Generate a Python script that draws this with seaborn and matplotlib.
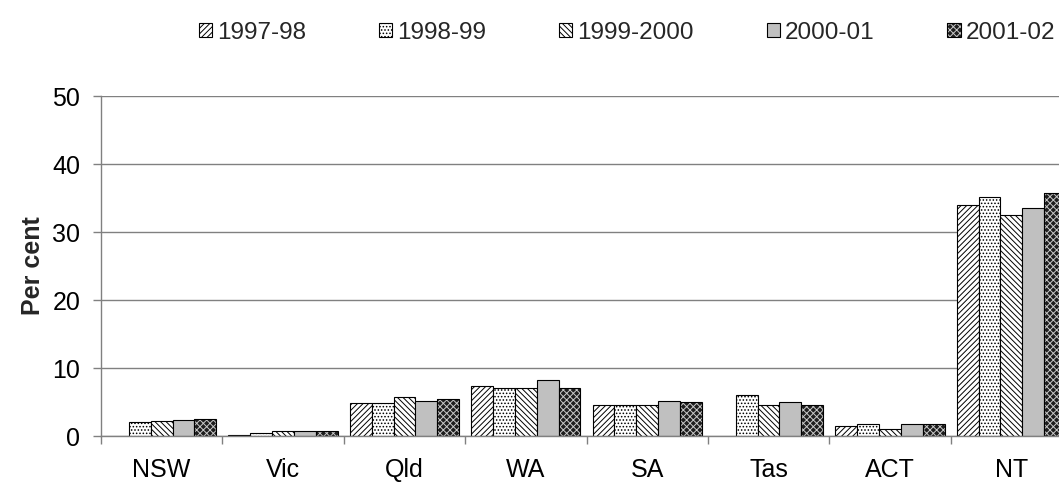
import numpy as np
import pandas as pd
import matplotlib
matplotlib.use("Agg")
import matplotlib.pyplot as plt
from matplotlib.patches import Patch, Rectangle
from matplotlib.legend_handler import HandlerTuple
import seaborn as sns

# Categories and series (per cent)
states = ["NSW", "Vic", "Qld", "WA", "SA", "Tas", "ACT", "NT"]
years = ["1997-98", "1998-99", "1999-2000", "2000-01", "2001-02"]

y1997_98 = [np.nan, 0.2, 4.8, 7.3, 4.5, np.nan, 1.4, 34.0]
y1998_99 = [2.0, 0.5, 4.8, 7.1, 4.5, 6.0, 1.8, 35.1]
y1999_00 = [2.2, 0.8, 5.7, 7.1, 4.5, 4.5, 1.1, 32.5]
y2000_01 = [2.35, 0.8, 5.1, 8.3, 5.1, 5.0, 1.8, 33.6]
y2001_02 = [2.5, 0.8, 5.4, 7.1, 4.95, 4.5, 1.8, 35.7]

y_ticks = [0, 10, 20, 30, 40, 50]

series = [y1997_98, y1998_99, y1999_00, y2000_01, y2001_02]
df = pd.DataFrame({
    "State": states * len(years),
    "Year": np.repeat(years, len(states)),
    "Value": np.concatenate(series),
})

sns.set_style("white")
plt.rcParams["font.family"] = ["Liberation Sans", "DejaVu Sans"]
plt.rcParams["hatch.linewidth"] = 0.7

GRID = "#808080"
DARK = "#1e1e1e"
DARK_HATCH = "#c8c8c8"

styles = {
    "1997-98": dict(facecolor="white", hatch="//////"),
    "1998-99": dict(facecolor="white", hatch="....."),
    "1999-2000": dict(facecolor="white", hatch="\\\\\\\\\\\\"),
    "2000-01": dict(facecolor="#c0c0c0", hatch=None),
    "2001-02": dict(facecolor=DARK, hatch="xxxxx"),
}

fig = plt.figure(figsize=(10.59, 4.82), dpi=100)
ax = fig.add_axes([101 / 1059, 46 / 482, 971 / 1059, 340 / 482])

sns.barplot(data=df, x="State", y="Value", hue="Year", order=states,
            hue_order=years, width=0.9, gap=0, ax=ax, legend=False,
            edgecolor="black", linewidth=0.8, saturation=1, errorbar=None)

for year, cont in zip(years, ax.containers):
    st = styles[year]
    for bar in cont.patches:
        bar.set_facecolor(st["facecolor"])
        if year == "2001-02":
            # light hatch on a dark fill, with a separate black outline
            bar.set_hatch(st["hatch"])
            bar.set_edgecolor(DARK_HATCH)
            bar.set_linewidth(0)
            ax.add_patch(Rectangle(bar.get_xy(), bar.get_width(), bar.get_height(),
                                   fill=False, edgecolor="black", linewidth=0.8,
                                   zorder=bar.get_zorder() + 0.1))
        elif st["hatch"]:
            bar.set_hatch(st["hatch"])

ax.set_xlim(-0.5, len(states) - 0.5)
ax.set_ylim(0, 50)
ax.set_yticks(y_ticks)
ax.set_yticklabels([str(v) for v in y_ticks])
ax.set_xticks(range(len(states)))
ax.set_xticklabels(states)
ax.set_xticks(np.arange(-0.5, len(states) + 0.5, 1), minor=True)

ax.yaxis.grid(True, color=GRID, linewidth=1)
ax.set_axisbelow(True)
for side in ["top", "right"]:
    ax.spines[side].set_visible(False)
for side in ["left", "bottom"]:
    ax.spines[side].set_color(GRID)
    ax.spines[side].set_linewidth(1)

ax.tick_params(axis="y", left=True, length=6, width=1, color=GRID,
               direction="out", labelsize=18, pad=9, labelcolor="black")
ax.tick_params(axis="x", which="major", bottom=True, length=0,
               labelsize=18, pad=16, labelcolor="black")
ax.tick_params(axis="x", which="minor", bottom=True, length=6, width=1,
               color=GRID, direction="out")

ax.set_xlabel("")
ax.set_ylabel("Per cent", fontsize=18, fontweight="bold", labelpad=5)

handles = []
for year in years:
    st = styles[year]
    if year == "2001-02":
        h = (Patch(facecolor=DARK, hatch=st["hatch"], edgecolor=DARK_HATCH, linewidth=0),
             Patch(fill=False, edgecolor="black", linewidth=0.8))
    else:
        h = Patch(facecolor=st["facecolor"], hatch=st["hatch"], edgecolor="black",
                  linewidth=0.8)
    handles.append(h)

fig.legend(handles, years, loc="center", bbox_to_anchor=(0.592, 0.932), ncol=5,
           frameon=False, fontsize=17.5, handlelength=0.55, handleheight=0.55,
           handletextpad=0.2, columnspacing=3.0, borderaxespad=0,
           handler_map={tuple: HandlerTuple(ndivide=1, pad=0)})

fig.savefig("out.png", dpi=100)
